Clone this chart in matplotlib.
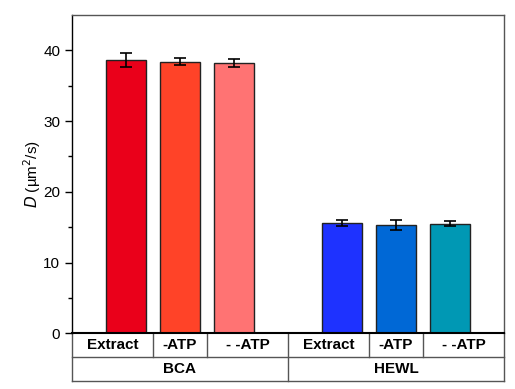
import matplotlib
matplotlib.use("Agg")
import matplotlib.pyplot as plt
import matplotlib.transforms as mtransforms

plt.rcParams['font.family'] = ['Liberation Sans', 'DejaVu Sans']

groups = ["BCA", "HEWL"]
conditions = ["Extract", "-ATP", "- -ATP"]
bca_values = [38.6, 38.4, 38.2]
bca_errors = [1.0, 0.5, 0.6]
hewl_values = [15.6, 15.3, 15.5]
hewl_errors = [0.4, 0.65, 0.35]
bca_colors = ["#EA001A", "#FF4328", "#FF7373"]
hewl_colors = ["#1E32FF", "#0068D6", "#0098B4"]

fig = plt.figure(figsize=(5.15, 3.89), dpi=100)
ax = fig.add_axes([72/515, 1-333.3/389, 432/515, (333.3-15)/389])

values = bca_values + hewl_values
errors = bca_errors + hewl_errors
colors = bca_colors + hewl_colors
xpos = [1, 2, 3, 5, 6, 7]
ax.bar(xpos, values, width=0.75, color=colors, edgecolor="#222222", linewidth=1.0, zorder=2)
ax.errorbar(xpos, values, yerr=errors, fmt='none', ecolor='black', elinewidth=1.2,
            capsize=4, capthick=1.2, zorder=3)

ax.set_xlim(0, 8)
ax.set_ylim(0, 45)
ax.set_yticks([0, 10, 20, 30, 40])
ax.set_yticks([5, 15, 25, 35], minor=True)
ax.tick_params(axis='y', which='major', direction='out', length=5, width=1, labelsize=11)
ax.tick_params(axis='y', which='minor', direction='out', length=3, width=1)
ax.set_xticks([])
ax.set_ylabel(r'$\it{D}$ (µm$^{2}$/s)', fontsize=11, labelpad=0)
for s in ['top', 'right']:
    ax.spines[s].set_color('#555555')
    ax.spines[s].set_linewidth(1.0)
ax.spines['left'].set_linewidth(1.0)
ax.spines['bottom'].set_linewidth(1.5)

# table below axis
trans = mtransforms.blended_transform_factory(ax.transData, ax.transAxes)
row_h = 24 / (333.3 - 15)
edges = [0, 1.5, 2.5, 4, 5.5, 6.5, 8]
lc = '#555555'
for k in [1, 2]:
    ax.plot([0, 8], [-k*row_h]*2, transform=trans, color=lc, lw=1.0, clip_on=False)
ax.plot([0, 0], [0, -2*row_h], transform=trans, color=lc, lw=1.0, clip_on=False)
ax.plot([8, 8], [0, -2*row_h], transform=trans, color=lc, lw=1.0, clip_on=False)
ax.plot([4, 4], [0, -2*row_h], transform=trans, color=lc, lw=1.0, clip_on=False)
for e in [1.5, 2.5, 5.5, 6.5]:
    ax.plot([e, e], [0, -row_h], transform=trans, color=lc, lw=1.0, clip_on=False)
labels = conditions + conditions
for i in range(6):
    xc = (edges[i] + edges[i+1]) / 2
    ax.text(xc, -row_h/2, labels[i], transform=trans, ha='center', va='center',
            fontsize=11, fontweight='bold')
for g, xc in zip(groups, [2, 6]):
    ax.text(xc, -1.5*row_h, g, transform=trans, ha='center', va='center',
            fontsize=11, fontweight='bold')

fig.savefig("out.png", dpi=100)
